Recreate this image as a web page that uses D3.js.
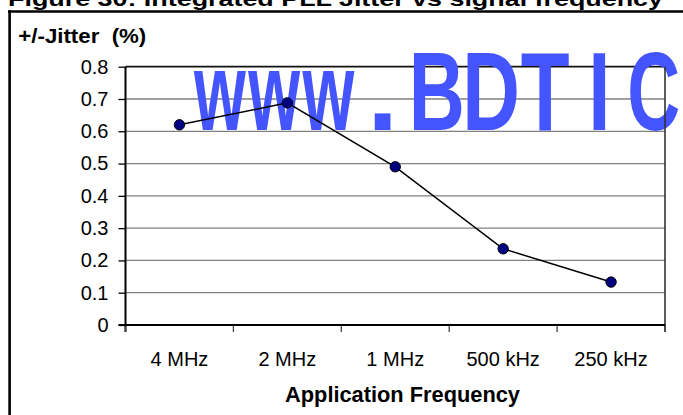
<!DOCTYPE html>
<html>
<head>
<meta charset="utf-8">
<script src="https://cdn.jsdelivr.net/npm/d3@7"></script>
<style>
  html, body { margin: 0; padding: 0; background: #fff; }
  svg { display: block; }
  text { font-family: "Liberation Sans", Arial, sans-serif; white-space: pre; }
</style>
</head>
<body>
<svg id="chart" width="683" height="415"></svg>
<script>
// ---- data ----
const categories = ["4 MHz", "2 MHz", "1 MHz", "500 kHz", "250 kHz"];
const jitter = [0.62, 0.688, 0.49, 0.236, 0.133];
const yTicks = [0, 0.1, 0.2, 0.3, 0.4, 0.5, 0.6, 0.7, 0.8];
const titleText = "Figure 30: Integrated PLL Jitter vs signal frequency";
const yTitle = "+/-Jitter  (%)";
const xTitle = "Application Frequency";
const watermarkChars = ["w", "w", "w", ".", "B", "D", "T", "I", "C"];

// ---- layout ----
const svg = d3.select("#chart");
const L = 125.5, R = 665, T = 66.7, B = 325;

const x = d3.scaleBand().domain(categories).range([L, R]).paddingInner(0).paddingOuter(0);
const y = d3.scaleLinear().domain([0, 0.8]).range([B, T]);

// outer frame (top + left)
svg.append("line").attr("x1", 8).attr("x2", 683).attr("y1", 11.5).attr("y2", 11.5)
  .attr("stroke", "#000").attr("stroke-width", 2.6);
svg.append("line").attr("x1", 9.6).attr("x2", 9.6).attr("y1", 10.2).attr("y2", 415)
  .attr("stroke", "#000").attr("stroke-width", 2.6);

// title (cut off at top, as in the reference)
svg.append("text").attr("x", 8).attr("y", 5.5)
  .attr("font-size", 20).attr("font-weight", "bold")
  .attr("textLength", 655).attr("lengthAdjust", "spacingAndGlyphs")
  .text(titleText);

// gridlines
svg.append("g").selectAll("line").data(yTicks.filter(d => d > 0 && d < 0.8)).join("line")
  .attr("x1", L).attr("x2", R).attr("y1", d => y(d)).attr("y2", d => y(d))
  .attr("stroke", "#808080").attr("stroke-width", 1.3);

// top border
svg.append("line").attr("x1", L).attr("x2", R).attr("y1", y(0.8)).attr("y2", y(0.8))
  .attr("stroke", "#111").attr("stroke-width", 1.8);

// watermark
const wmX0 = 220, wmStep = 54.2;
const wmScale = { "w": 0.6, ".": 1.0, "I": 0.72, "C": 0.66, "B": 0.7, "D": 0.72, "T": 0.72 };
const wm = svg.append("g").attr("fill", "#4455ff");
wm.selectAll("text").data(watermarkChars).join("text")
  .attr("transform", (d, i) => `translate(${wmX0 + i * wmStep},129.6) scale(${wmScale[d]},1)`)
  .attr("text-anchor", "middle")
  .attr("font-size", 111).attr("font-weight", "bold")
  .text(d => d);

// right border
svg.append("line").attr("x1", R).attr("x2", R).attr("y1", T).attr("y2", B + 7)
  .attr("stroke", "#333").attr("stroke-width", 1.6);

// y axis
const yAxis = d3.axisLeft(y).tickValues(yTicks).tickSize(7).tickPadding(10)
  .tickFormat(d => d === 0 ? "0" : d3.format(".1f")(d));
const gy = svg.append("g").attr("transform", `translate(${L},0)`).call(yAxis);
gy.select(".domain").remove();
gy.selectAll(".tick line").attr("stroke", "#000").attr("stroke-width", 1.3);
gy.selectAll(".tick text").attr("font-size", 20).attr("fill", "#000")
  .attr("font-family", "Liberation Sans, Arial, sans-serif");
svg.append("line").attr("x1", L).attr("x2", L).attr("y1", T).attr("y2", B + 7)
  .attr("stroke", "#000").attr("stroke-width", 2);

// x axis
const xBounds = [L].concat(categories.map(c => x(c) + x.bandwidth()));
svg.append("g").selectAll("line").data(xBounds).join("line")
  .attr("x1", d => d).attr("x2", d => d).attr("y1", B).attr("y2", B + 7)
  .attr("stroke", "#444").attr("stroke-width", 1.3);
svg.append("line").attr("x1", L - 7).attr("x2", R).attr("y1", B).attr("y2", B)
  .attr("stroke", "#000").attr("stroke-width", 2);
svg.append("g").selectAll("text").data(categories).join("text")
  .attr("x", d => x(d) + x.bandwidth() / 2).attr("y", 365.7)
  .attr("text-anchor", "middle").attr("font-size", 20)
  .text(d => d);

// axis titles
svg.append("text").attr("x", 402.5).attr("y", 401.7).attr("text-anchor", "middle")
  .attr("font-size", 21.8).attr("font-weight", "bold").text(xTitle);
svg.append("text").attr("x", 18.3).attr("y", 43.3)
  .attr("font-size", 19.5).attr("font-weight", "bold")
  .attr("textLength", 128).attr("lengthAdjust", "spacingAndGlyphs")
  .text(yTitle);

// data line + markers
const pts = categories.map((c, i) => [x(c) + x.bandwidth() / 2, y(jitter[i])]);
svg.append("path").datum(pts).attr("d", d3.line())
  .attr("fill", "none").attr("stroke", "#000").attr("stroke-width", 1.5);
svg.append("g").selectAll("circle").data(pts).join("circle")
  .attr("cx", d => d[0]).attr("cy", d => d[1]).attr("r", 5.2)
  .attr("fill", "#000080").attr("stroke", "#000").attr("stroke-width", 1);
</script>
</body>
</html>
